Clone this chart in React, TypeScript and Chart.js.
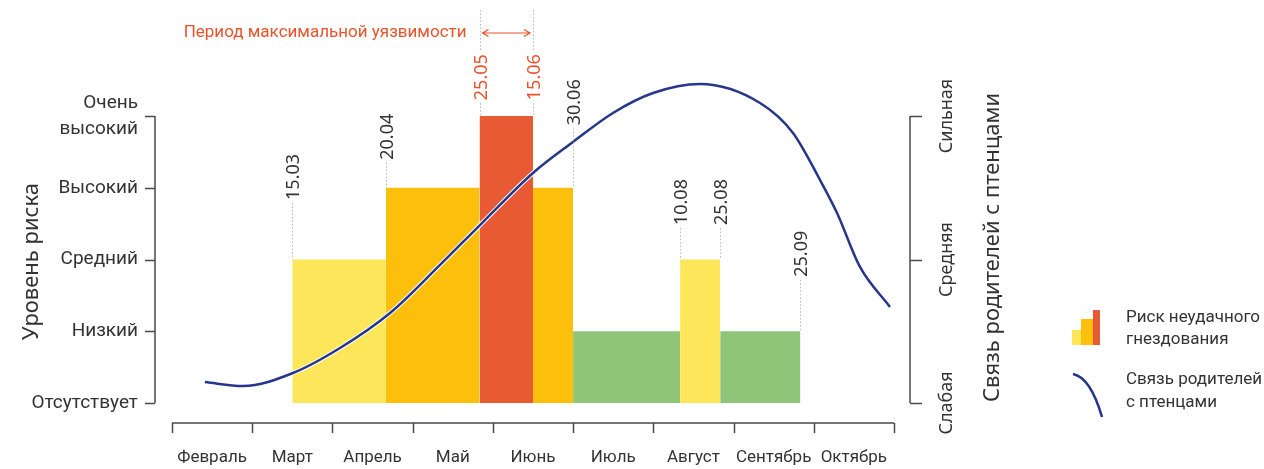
import React, { useEffect, useRef } from "react";
import { Chart, registerables } from "chart.js";

Chart.register(...registerables);

// ---------- data ----------
const months = ["Февраль", "Март", "Апрель", "Май", "Июнь", "Июль", "Август", "Сентябрь", "Октябрь"];
const firstMonth = 2; // February = month 02
const riskLabels: (string | string[])[] = ["Отсутствует", "Низкий", "Средний", "Высокий", ["Очень", "высокий"]];
const bondLabels = ["Слабая", "Средняя", "Сильная"];

const periodStart = ["15.03", "20.04", "25.05", "15.06", "30.06", "10.08", "25.08"];
const periodEnd = ["20.04", "25.05", "15.06", "30.06", "10.08", "25.08", "25.09"];
const periodRisk = [2, 3, 4, 3, 1, 2, 1];

const markerDates = ["15.03", "20.04", "25.05", "15.06", "30.06", "10.08", "25.08", "25.09"];
const markerLabelBase = [2.83, 3.39, 4.22, 4.22, 3.87, 2.48, 2.48, 1.76];
const highlightDates = ["25.05", "15.06"];
const highlightText = "Период максимальной уязвимости";

// parent-chick bond curve (x in months from 1 Feb, y on bond scale)
const bondX = [0.41, 0.885, 1.508, 2.094, 2.718, 3.341, 3.864, 4.5, 4.999, 5.497, 5.996, 6.582, 7.33, 7.741, 8.078, 8.29, 8.576, 8.95];
const bondY = [0.146, 0.118, 0.209, 0.383, 0.627, 0.962, 1.254, 1.603, 1.819, 2.021, 2.16, 2.223, 2.091, 1.882, 1.554, 1.324, 0.948, 0.669];

const legendRisk = ["Риск неудачного", "гнездования"];
const legendBond = ["Связь родителей", "с птенцами"];
const leftTitle = "Уровень риска";
const rightTitle = "Связь родителей с птенцами";

// ---------- styles ----------
const levelColor: Record<number, string> = {
  1: "#8FC578",
  2: "#FDE65A",
  3: "#FBBF0C",
  4: "#E85A34",
};
const NAVY = "#25368C";
const TEXT = "#333333";
const AXIS = "#4a4a4a";
const RED_TEXT = "#E8532C";
const NARROW = "Roboto, 'Liberation Sans', sans-serif";
const SANS = "'Noto Sans', 'Open Sans', sans-serif";

const dateToX = (s: string) => {
  const [d, m] = s.split(".").map(Number);
  return m - firstMonth + d / 30;
};

const markerTop = (d: string) => {
  let lv = 0;
  periodStart.forEach((s, i) => {
    if (s === d || periodEnd[i] === d) lv = Math.max(lv, periodRisk[i]);
  });
  return lv;
};

const decorPlugin = {
  id: "decor",
  afterDraw(chart: any) {
    const { ctx, chartArea, scales } = chart;
    const x = scales.x;
    const y = scales.y;
    const y2 = scales.y2;
    ctx.save();

    // ---- x axis line + month separators
    ctx.strokeStyle = AXIS;
    ctx.lineWidth = 1.5;
    const xb = chartArea.bottom;
    ctx.beginPath();
    ctx.moveTo(x.getPixelForValue(0), xb);
    ctx.lineTo(x.getPixelForValue(months.length), xb);
    for (let i = 0; i <= months.length; i++) {
      const px = Math.round(x.getPixelForValue(i)) + 0.5;
      ctx.moveTo(px, xb);
      ctx.lineTo(px, xb + 10);
    }
    ctx.stroke();

    // ---- left axis bracket
    const lx = chartArea.left - 17;
    ctx.beginPath();
    ctx.moveTo(lx, y.getPixelForValue(0));
    ctx.lineTo(lx, y.getPixelForValue(riskLabels.length - 1));
    for (let i = 0; i < riskLabels.length; i++) {
      const py = Math.round(y.getPixelForValue(i)) + 0.5;
      ctx.moveTo(lx - 10, py);
      ctx.lineTo(lx, py);
    }
    ctx.stroke();

    // ---- right axis bracket
    const rx = chartArea.right + 16;
    ctx.beginPath();
    ctx.moveTo(rx, y2.getPixelForValue(0));
    ctx.lineTo(rx, y2.getPixelForValue(bondLabels.length - 1));
    for (let i = 0; i < bondLabels.length; i++) {
      const py = Math.round(y2.getPixelForValue(i)) + 0.5;
      ctx.moveTo(rx, py);
      ctx.lineTo(rx + 12, py);
    }
    ctx.stroke();

    // right labels
    ctx.fillStyle = TEXT;
    ctx.font = `18px ${SANS}`;
    ctx.textAlign = "center";
    ctx.textBaseline = "middle";
    bondLabels.forEach((t, i) => {
      ctx.save();
      ctx.translate(rx + 37, y2.getPixelForValue(i));
      ctx.rotate(-Math.PI / 2);
      ctx.fillText(t, 0, 0);
      ctx.restore();
    });

    // titles
    ctx.font = `22px ${SANS}`;
    ctx.save();
    ctx.translate(32, (y.getPixelForValue(0) + y.getPixelForValue(4)) / 2 + 2);
    ctx.rotate(-Math.PI / 2);
    ctx.fillText(leftTitle, 0, 0);
    ctx.restore();
    ctx.save();
    ctx.translate(rx + 83, (y2.getPixelForValue(0) + y2.getPixelForValue(2)) / 2 - 12);
    ctx.rotate(-Math.PI / 2);
    ctx.fillText(rightTitle, 0, 0);
    ctx.restore();

    // ---- date markers
    ctx.font = `18px ${SANS}`;
    markerDates.forEach((d, i) => {
      const px = Math.round(x.getPixelForValue(dateToX(d))) + 0.5;
      const pyBase = y.getPixelForValue(markerLabelBase[i]);
      const pyTop = y.getPixelForValue(markerTop(d));
      const hl = highlightDates.includes(d);
      ctx.strokeStyle = "#b8b8b8";
      ctx.lineWidth = 1;
      ctx.setLineDash([1.5, 2]);
      ctx.beginPath();
      ctx.moveTo(px, pyBase + 3);
      ctx.lineTo(px, pyTop);
      const w = ctx.measureText(d).width;
      if (hl) {
        ctx.moveTo(px, chartArea.top + 10);
        ctx.lineTo(px, pyBase - w - 3);
      }
      ctx.stroke();
      ctx.setLineDash([]);
      ctx.fillStyle = hl ? RED_TEXT : TEXT;
      ctx.save();
      ctx.translate(px + 1, pyBase);
      ctx.rotate(-Math.PI / 2);
      ctx.textAlign = "left";
      ctx.textBaseline = "middle";
      ctx.fillText(d, 0, 0);
      ctx.restore();
    });

    // ---- highlight arrow + text
    const ax1 = x.getPixelForValue(dateToX(highlightDates[0]));
    const ax2 = x.getPixelForValue(dateToX(highlightDates[1]));
    const ay = chartArea.top + 33;
    ctx.strokeStyle = RED_TEXT;
    ctx.lineWidth = 1.2;
    ctx.beginPath();
    ctx.moveTo(ax1 + 3, ay);
    ctx.lineTo(ax2 - 3, ay);
    ctx.moveTo(ax1 + 9, ay - 3.5);
    ctx.lineTo(ax1 + 3, ay);
    ctx.lineTo(ax1 + 9, ay + 3.5);
    ctx.moveTo(ax2 - 9, ay - 3.5);
    ctx.lineTo(ax2 - 3, ay);
    ctx.lineTo(ax2 - 9, ay + 3.5);
    ctx.stroke();
    ctx.fillStyle = RED_TEXT;
    ctx.font = `17px ${NARROW}`;
    ctx.textAlign = "right";
    ctx.textBaseline = "middle";
    ctx.fillText(highlightText, ax1 - 13, ay);

    // ---- legend
    const gx = chartArea.right + 178;
    const gb = 345;
    ctx.fillStyle = levelColor[2];
    ctx.fillRect(gx, gb - 15, 9, 15);
    ctx.fillStyle = levelColor[3];
    ctx.fillRect(gx + 9, gb - 26, 12, 26);
    ctx.fillStyle = levelColor[4];
    ctx.fillRect(gx + 21, gb - 35, 7, 35);
    ctx.strokeStyle = NAVY;
    ctx.lineWidth = 2.5;
    ctx.beginPath();
    ctx.moveTo(gx + 1, 374);
    ctx.bezierCurveTo(gx + 11, 376, gx + 21, 386, gx + 30, 417);
    ctx.stroke();
    ctx.fillStyle = TEXT;
    ctx.font = `17px ${NARROW}`;
    ctx.textAlign = "left";
    ctx.textBaseline = "middle";
    ctx.fillText(legendRisk[0], gx + 54, 318);
    ctx.fillText(legendRisk[1], gx + 54, 340);
    ctx.fillText(legendBond[0], gx + 54, 380);
    ctx.fillText(legendBond[1], gx + 54, 403);

    ctx.restore();
  },
};

export default function App() {
  const ref = useRef<HTMLCanvasElement>(null);

  useEffect(() => {
    if (!ref.current) return;
    const bars = periodStart.map((s, i) => ({
      type: "line" as const,
      data: [
        { x: dateToX(s), y: periodRisk[i] },
        { x: dateToX(periodEnd[i]), y: periodRisk[i] },
      ],
      yAxisID: "y",
      borderWidth: 0,
      borderColor: "rgba(0,0,0,0)",
      backgroundColor: levelColor[periodRisk[i]],
      fill: "origin",
      pointRadius: 0,
      tension: 0,
      order: 3,
    }));
    const curve = bondX.map((v, i) => ({ x: v, y: bondY[i] }));
    const chart = new Chart(ref.current, {
      type: "line",
      data: {
        datasets: [
          ...bars,
          {
            data: curve,
            yAxisID: "y2",
            borderColor: "#ffffff",
            borderWidth: 4.5,
            pointRadius: 0,
            cubicInterpolationMode: "monotone",
            fill: false,
            order: 2,
          },
          {
            data: curve,
            yAxisID: "y2",
            borderColor: NAVY,
            borderWidth: 2.5,
            pointRadius: 0,
            cubicInterpolationMode: "monotone",
            fill: false,
            order: 1,
          },
        ] as any,
      },
      options: {
        animation: false,
        responsive: false,
        layout: { padding: { top: 0, right: 370, bottom: 0, left: 0 } },
        plugins: { legend: { display: false }, tooltip: { enabled: false } },
        scales: {
          x: {
            type: "linear",
            min: 0,
            max: months.length,
            grid: { display: false, drawTicks: false },
            border: { display: false },
            afterBuildTicks: (s: any) => {
              s.ticks = months.map((_, i) => ({ value: i + 0.5 }));
            },
            afterFit: (s: any) => {
              s.height = 46;
              s.paddingLeft = 0;
              s.paddingRight = 0;
            },
            ticks: {
              autoSkip: false,
              maxRotation: 0,
              minRotation: 0,
              padding: 25,
              color: TEXT,
              font: { family: NARROW, size: 17 },
              callback: (_v: any, i: number) => months[i],
            },
          },
          y: {
            type: "linear",
            position: "left",
            min: -0.2787,
            max: 5.6167,
            grid: { display: false, drawTicks: false },
            border: { display: false },
            afterBuildTicks: (s: any) => {
              s.ticks = riskLabels.map((_, i) => ({ value: i }));
            },
            afterFit: (s: any) => {
              s.width = 172;
              s.paddingTop = 0;
              s.paddingBottom = 0;
            },
            ticks: {
              padding: 34,
              color: TEXT,
              font: { family: NARROW, size: 19, lineHeight: 1.35 },
              callback: (_v: any, i: number) => riskLabels[i],
            },
          },
          y2: {
            type: "linear",
            position: "right",
            display: false,
            min: -0.13935,
            max: 2.80835,
          },
        },
      },
      plugins: [decorPlugin],
    });
    return () => chart.destroy();
  }, []);

  return (
    <div style={{ position: "fixed", left: 0, top: 0, width: 1264, height: 469, background: "#fff" }}>
      <canvas ref={ref} width={1264} height={469} style={{ display: "block", width: 1264, height: 469 }} />
    </div>
  );
}
